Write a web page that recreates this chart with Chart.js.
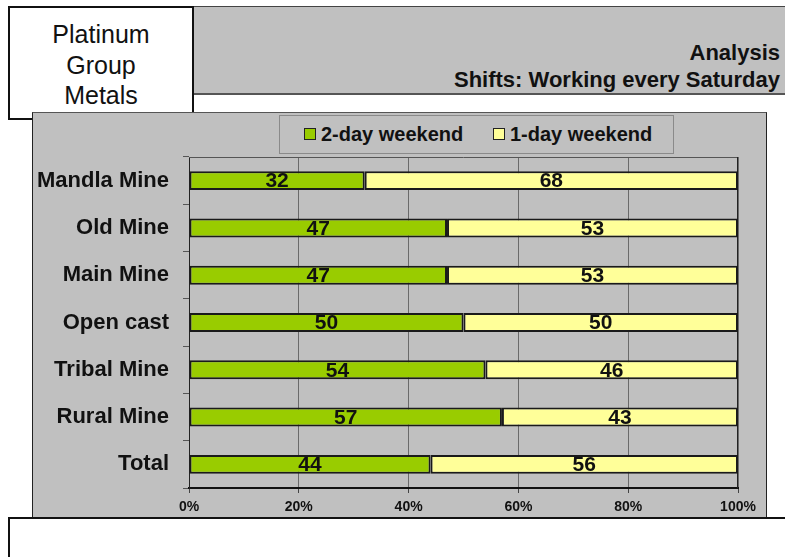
<!DOCTYPE html>
<html>
<head>
<meta charset="utf-8">
<script src="https://cdn.jsdelivr.net/npm/chart.js@4.4.0/dist/chart.umd.min.js"></script>
<style>
  body { margin: 0; background: #fff; font-family: "Liberation Sans", Arial, sans-serif; }
  #page { position: relative; width: 785px; height: 557px; overflow: hidden; }
  .header { position: absolute; left: 8px; top: 6px; width: 800px; height: 86px; background: #c0c0c0;
            border-top: 1px solid #444; border-bottom: 2px solid #555; }
  .header .t { position: absolute; right: 28px; font-weight: bold; font-size: 22px; color: #111; }
  .logo { position: absolute; left: 8px; top: 6px; width: 186px; height: 114px; background: #fff;
          border: 2px solid #111; text-align: center; font-size: 25px; line-height: 30.5px; color: #111;
          padding-top: 11px; box-sizing: border-box; }
  .panel { position: absolute; left: 32px; top: 112px; width: 735px; height: 406px; background: #c0c0c0;
           border-left: 1px solid #222; border-right: 1px solid #222; border-top: 1px solid #555; box-sizing: border-box; }
  .panel canvas { position: absolute; left: -1px; top: -1px; }
  .legend { position: absolute; left: 279px; top: 115px; width: 395px; height: 39px; border: 1px solid #8a8a8a;
            box-sizing: border-box; background: #c0c0c0; font-weight: bold; font-size: 20px; color: #111; }
  .legend span.item { position: absolute; top: 7px; }
  .legend i { display: inline-block; width: 10px; height: 10px; border: 1px solid #222; margin-right: 5px; vertical-align: 1px; }
  .footer { position: absolute; left: 8px; top: 517px; width: 800px; height: 60px; background: #fff; border: 2px solid #111; }
</style>
</head>
<body>
<div id="page">
  <div class="header">
    <div class="t" style="top:33px">Analysis</div>
    <div class="t" style="top:60px">Shifts: Working every Saturday</div>
  </div>
  <div class="logo">Platinum<br>Group<br>Metals</div>
  <div class="panel"><canvas id="chart" width="735" height="406"></canvas></div>
  <div class="legend" id="legend"></div>
  <div class="footer"></div>
</div>
<script>
const mines = ['Mandla Mine', 'Old Mine', 'Main Mine', 'Open cast', 'Tribal Mine', 'Rural Mine', 'Total'];
const twoDay = [32, 47, 47, 50, 54, 57, 44];
const oneDay = [68, 53, 53, 50, 46, 43, 56];
const seriesNames = ['2-day weekend', '1-day weekend'];
const seriesColors = ['#99cc00', '#ffff99'];
const pctTicks = [0, 20, 40, 60, 80, 100];

const FONT = '"Liberation Sans", Arial, sans-serif';

// legend built from the series
const legend = document.getElementById('legend');
const legendX = [24, 213];
seriesNames.forEach((name, i) => {
  const s = document.createElement('span');
  s.className = 'item';
  s.style.left = legendX[i] + 'px';
  s.innerHTML = '<i style="background:' + seriesColors[i] + '"></i>' + name;
  legend.appendChild(s);
});

// values inside the bars + plot frame
const barLabels = {
  id: 'barLabels',
  beforeDatasetsDraw(chart) {
    const { ctx, chartArea: a } = chart;
    ctx.save();
    ctx.strokeStyle = '#555';
    ctx.lineWidth = 1;
    ctx.beginPath();
    ctx.moveTo(a.left, a.top + 0.5);
    ctx.lineTo(a.right, a.top + 0.5);
    ctx.stroke();
    ctx.strokeStyle = '#222';
    ctx.beginPath();
    ctx.moveTo(a.right - 0.5, a.top);
    ctx.lineTo(a.right - 0.5, a.bottom);
    ctx.stroke();
    ctx.restore();
  },
  afterDatasetsDraw(chart) {
    const ctx = chart.ctx;
    ctx.save();
    ctx.font = 'bold 21px ' + FONT;
    ctx.fillStyle = '#111';
    ctx.textAlign = 'center';
    ctx.textBaseline = 'middle';
    chart.data.datasets.forEach((ds, i) => {
      chart.getDatasetMeta(i).data.forEach((bar, j) => {
        ctx.fillText(ds.data[j], (bar.x + bar.base) / 2, bar.y + 1);
      });
    });
    ctx.restore();
  }
};

new Chart(document.getElementById('chart'), {
  type: 'bar',
  data: {
    labels: mines,
    datasets: seriesNames.map((name, i) => ({
      label: name,
      data: i === 0 ? twoDay : oneDay,
      backgroundColor: seriesColors[i],
      borderColor: '#1a1a1a',
      borderWidth: 2,
      borderSkipped: false,
      barPercentage: 0.4,
      categoryPercentage: 1
    }))
  },
  options: {
    indexAxis: 'y',
    responsive: false,
    animation: false,
    layout: { padding: { top: 45, right: 29, left: 0, bottom: 0 } },
    plugins: { legend: { display: false }, tooltip: { enabled: false } },
    scales: {
      x: {
        stacked: true,
        min: 0,
        max: 100,
        afterBuildTicks: s => { s.ticks = pctTicks.map(v => ({ value: v })); },
        ticks: {
          callback: v => v + '%',
          color: '#111',
          font: { family: FONT, weight: 'bold', size: 14 },
          padding: 6,
          maxRotation: 0
        },
        grid: { color: '#6a6a6a', lineWidth: 1, tickLength: 5, tickColor: '#444' },
        border: { color: '#111', width: 2 },
        afterFit: s => { s.height = 30; }
      },
      y: {
        stacked: true,
        ticks: {
          color: '#111',
          font: { family: FONT, weight: 'bold', size: 22 },
          padding: 14
        },
        grid: { offset: true, drawOnChartArea: false, tickLength: 6, color: '#555' },
        border: { color: '#222', width: 1 },
        afterFit: s => { s.width = 157; }
      }
    }
  },
  plugins: [barLabels]
});
</script>
</body>
</html>
